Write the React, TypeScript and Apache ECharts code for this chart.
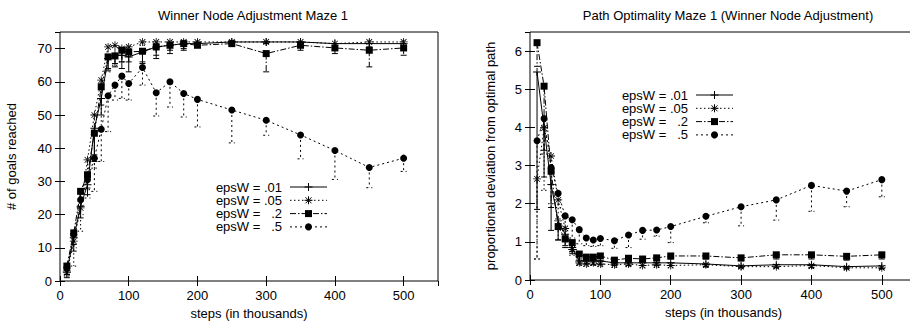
import React, { useEffect, useRef } from "react";
import * as echarts from "echarts";

const FONT = "'Liberation Sans', Arial, Helvetica, sans-serif";

const steps = [10, 20, 30, 40, 50, 60, 70, 80, 90, 100, 120, 140, 160, 180, 200, 250, 300, 350, 400, 450, 500];
const labels = ["epsW = .01", "epsW = .05", "epsW =   .2", "epsW =   .5"];

// Left: goals reached
const goals01 = [3, 13, 22.5, 29, 46, 55, 67, 68, 68, 67.5, 69, 70.5, 71, 71.5, 71.5, 72, 72, 72, 71.5, 71.5, 71.5];
const goals01Low = [1, 9, 19, 26, 38, 50, 63.5, 64.5, 64, 63, 65.5, 67, 68.5, 69.5, 70.5, 71, 71.5, 71, 70.5, 70.5, 70];
const goals05 = [2.5, 12, 22, 36.5, 50, 60.5, 70.5, 71, 70, 70.5, 72, 72, 72, 72, 72, 72, 72, 72, 71.5, 72, 72];
const goals05Low = [1.5, 4.5, 15, 27.5, 34, 45, 63, 65, 66, 68, 71, 71.5, 71.5, 71.5, 71.5, 71.5, 71.5, 71.5, 71, 71.5, 71.5];
const goals2 = [4.5, 14.5, 27, 32, 44.5, 58.5, 67.5, 67.8, 69.5, 69, 69.2, 70.5, 71, 71.5, 71, 71.5, 68.5, 71, 70.2, 69.5, 70.2];
const goals2Low = [2, 11, 24, 28, 36, 53, 64, 65.5, 66, 66, 66, 68, 69.5, 70, 70.5, 71, 63, 69.5, 68.5, 64.5, 68];
const goals5 = [4, 14, 24.5, 30.5, 37, 45.7, 55.8, 59, 61.7, 59.5, 64.3, 56.7, 60, 56.5, 54.7, 51.5, 48.4, 44, 39.3, 34.2, 37];
const goals5Low = [2, 10, 20, 25, 27, 36, 45, 54.5, 55, 54.5, 59, 49.7, 52.4, 49.4, 46.4, 41.6, 43.9, 36.8, 30.6, 28.1, 33];

// Right: path deviation
const dev01 = [5.45, 4.0, 2.5, 1.55, 1.2, 0.85, 0.5, 0.5, 0.5, 0.5, 0.45, 0.45, 0.45, 0.45, 0.45, 0.42, 0.37, 0.4, 0.4, 0.35, 0.37];
const dev01Low = [1.85, 2.7, 1.3, 1.05, 0.9, 0.7, 0.42, 0.42, 0.4, 0.4, 0.38, 0.38, 0.38, 0.38, 0.38, 0.35, 0.33, 0.33, 0.33, 0.3, 0.3];
const dev05 = [2.65, 3.98, 3.25, 2.1, 1.35, 0.8, 0.45, 0.42, 0.45, 0.42, 0.4, 0.42, 0.38, 0.4, 0.38, 0.4, 0.35, 0.35, 0.38, 0.32, 0.32];
const dev05Low = [0.55, 2.35, 2.0, 1.6, 1.0, 0.65, 0.38, 0.36, 0.38, 0.35, 0.33, 0.35, 0.32, 0.33, 0.32, 0.33, 0.3, 0.3, 0.3, 0.28, 0.28];
const dev2 = [6.22, 5.08, 2.85, 1.4, 1.08, 0.98, 0.68, 0.6, 0.6, 0.63, 0.52, 0.57, 0.55, 0.58, 0.63, 0.63, 0.58, 0.66, 0.66, 0.62, 0.66];
const dev2Low = [5.6, 3.4, 1.9, 1.05, 0.85, 0.75, 0.55, 0.5, 0.5, 0.5, 0.45, 0.48, 0.48, 0.5, 0.55, 0.55, 0.5, 0.55, 0.55, 0.52, 0.55];
const dev5 = [3.65, 4.23, 2.95, 2.27, 1.68, 1.58, 1.32, 1.1, 1.05, 1.09, 1.03, 1.18, 1.3, 1.31, 1.4, 1.67, 1.92, 2.1, 2.48, 2.33, 2.63];
const dev5Low = [0.55, 3.3, 2.5, 1.9, 1.3, 1.1, 0.95, 0.9, 0.88, 0.9, 0.83, 0.85, 1.07, 1.15, 0.98, 1.5, 1.42, 1.57, 1.8, 1.92, 2.18];

const PLUS = "path://M-1,-0.12H1V0.12H-1Z M-0.12,-1H0.12V1H-0.12Z";
const STAR =
  "path://M-1,-0.1H1V0.1H-1Z M-0.1,-1H0.1V1H-0.1Z M-0.78,-0.64L-0.64,-0.78L0.78,0.64L0.64,0.78Z M0.78,-0.64L0.64,-0.78L-0.78,0.64L-0.64,0.78Z";

const styles = [
  { symbol: PLUS, size: 8, dash: [] as number[] },
  { symbol: STAR, size: 8, dash: [1.5, 2.5] },
  { symbol: "rect", size: 7, dash: [6, 2, 1.5, 2] },
  { symbol: "circle", size: 7, dash: [2, 3] },
];

function errRender(dash: number[]) {
  return (params: any, api: any) => {
    const x = api.value(0);
    const p = api.coord([x, api.value(1)]);
    const q = api.coord([x, api.value(2)]);
    const st = { stroke: "#000", lineWidth: 1, lineDash: dash.length ? dash : null, fill: null };
    return {
      type: "group",
      children: [
        { type: "line", shape: { x1: p[0], y1: p[1], x2: q[0], y2: q[1] }, style: st },
        { type: "line", shape: { x1: q[0] - 3, y1: q[1], x2: q[0] + 3, y2: q[1] }, style: st },
      ],
    };
  };
}

function buildSeries(gridIdx: number, ys: number[][], lows: number[][]) {
  const out: any[] = [];
  ys.forEach((y, i) => {
    const s = styles[i];
    out.push({
      type: "custom",
      xAxisIndex: gridIdx * 2,
      yAxisIndex: gridIdx * 2,
      z: 2,
      silent: true,
      renderItem: errRender(s.dash),
      encode: { x: 0, y: [1, 2] },
      data: steps.map((x, k) => [x, y[k], lows[i][k]]),
    });
    out.push({
      type: "line",
      xAxisIndex: gridIdx * 2,
      yAxisIndex: gridIdx * 2,
      z: 3,
      symbol: s.symbol,
      symbolSize: s.size,
      showSymbol: true,
      itemStyle: { color: "#000" },
      lineStyle: { color: "#000", width: 1, type: s.dash.length ? s.dash : "solid" },
      data: steps.map((x, k) => [x, y[k]]),
    });
  });
  return out;
}

function legendGraphics(textRight: number, top: number, rowH: number, lineX1: number, lineX2: number) {
  const els: any[] = [];
  labels.forEach((lab, i) => {
    const y = top + i * rowH;
    const s = styles[i];
    els.push({
      type: "text",
      x: textRight,
      y,
      style: {
        text: lab,
        fontSize: 13,
        fontFamily: FONT,
        fill: "#000",
        align: "right",
        verticalAlign: "middle",
      },
    });
    els.push({
      type: "line",
      shape: { x1: lineX1, y1: y, x2: lineX2, y2: y },
      style: { stroke: "#000", lineWidth: 1, lineDash: s.dash.length ? s.dash : null },
    });
    const mx = (lineX1 + lineX2) / 2;
    if (i === 0) {
      els.push({ type: "line", shape: { x1: mx - 4, y1: y, x2: mx + 4, y2: y }, style: { stroke: "#000", lineWidth: 1 } });
      els.push({ type: "line", shape: { x1: mx, y1: y - 4, x2: mx, y2: y + 4 }, style: { stroke: "#000", lineWidth: 1 } });
    } else if (i === 1) {
      els.push({ type: "line", shape: { x1: mx - 4, y1: y, x2: mx + 4, y2: y }, style: { stroke: "#000", lineWidth: 1 } });
      els.push({ type: "line", shape: { x1: mx, y1: y - 4, x2: mx, y2: y + 4 }, style: { stroke: "#000", lineWidth: 1 } });
      els.push({ type: "line", shape: { x1: mx - 3, y1: y - 3, x2: mx + 3, y2: y + 3 }, style: { stroke: "#000", lineWidth: 1 } });
      els.push({ type: "line", shape: { x1: mx - 3, y1: y + 3, x2: mx + 3, y2: y - 3 }, style: { stroke: "#000", lineWidth: 1 } });
    } else if (i === 2) {
      els.push({ type: "rect", shape: { x: mx - 3.5, y: y - 3.5, width: 7, height: 7 }, style: { fill: "#000" } });
    } else {
      els.push({ type: "circle", shape: { cx: mx, cy: y, r: 3.5 }, style: { fill: "#000" } });
    }
  });
  return els;
}

const axisText = { color: "#000", fontSize: 13, fontFamily: FONT };

function xAxes(gridIndex: number) {
  return [
    {
      type: "value",
      gridIndex,
      min: 0,
      max: 550,
      interval: 100,
      name: "steps (in thousands)",
      nameLocation: "middle",
      nameGap: 25,
      nameTextStyle: axisText,
      axisLine: { show: false },
      axisTick: { inside: true, length: 5, lineStyle: { color: "#000" } },
      axisLabel: { ...axisText, margin: 8, showMaxLabel: false },
      splitLine: { show: false },
    },
    {
      type: "value",
      gridIndex,
      position: "top",
      min: 0,
      max: 550,
      interval: 100,
      axisLine: { show: false },
      axisTick: { inside: true, length: 5, lineStyle: { color: "#000" } },
      axisLabel: { show: false },
      splitLine: { show: false },
    },
  ];
}

function yAxes(gridIndex: number, max: number, interval: number, name: string, nameGap: number) {
  return [
    {
      type: "value",
      gridIndex,
      min: 0,
      max,
      interval,
      name,
      nameLocation: "middle",
      nameGap,
      nameTextStyle: axisText,
      axisLine: { show: false },
      axisTick: { inside: true, length: 5, lineStyle: { color: "#000" } },
      axisLabel: { ...axisText, margin: 8, showMaxLabel: false },
      splitLine: { show: false },
    },
    {
      type: "value",
      gridIndex,
      position: "right",
      min: 0,
      max,
      interval,
      axisLine: { show: false },
      axisTick: { inside: true, length: 5, lineStyle: { color: "#000" } },
      axisLabel: { show: false },
      splitLine: { show: false },
    },
  ];
}

export default function App() {
  const ref = useRef<HTMLDivElement>(null);
  useEffect(() => {
    if (!ref.current) return;
    const chart = echarts.init(ref.current, null, { renderer: "svg" });
    const option: any = {
      animation: false,
      backgroundColor: "#fff",
      textStyle: { fontFamily: FONT },
      title: [
        {
          text: "Winner Node Adjustment Maze 1",
          left: 248,
          top: 4,
          textAlign: "center",
          textStyle: { fontSize: 13, fontWeight: "normal", color: "#000", fontFamily: FONT },
        },
        {
          text: "Path Optimality Maze 1 (Winner Node Adjustment)",
          left: 723,
          top: 4,
          textAlign: "center",
          textStyle: { fontSize: 13, fontWeight: "normal", color: "#000", fontFamily: FONT },
        },
      ],
      grid: [
        {
          left: 60, top: 32, width: 378, height: 249,
          show: true, borderColor: "#000", borderWidth: 1, backgroundColor: "transparent",
          outerBoundsMode: "none",
        },
        {
          left: 530, top: 32, width: 387, height: 248,
          show: true, borderColor: "#000", borderWidth: 1, backgroundColor: "transparent",
          outerBoundsMode: "none",
        },
      ],
      xAxis: [...xAxes(0), ...xAxes(1)],
      yAxis: [
        ...yAxes(0, 75, 10, "# of goals reached", 42),
        ...yAxes(1, 6.5, 1, "proportional deviation from optimal path", 33),
      ],
      series: [
        ...buildSeries(0, [goals01, goals05, goals2, goals5], [goals01Low, goals05Low, goals2Low, goals5Low]),
        ...buildSeries(1, [dev01, dev05, dev2, dev5], [dev01Low, dev05Low, dev2Low, dev5Low]),
      ],
      graphic: [
        ...legendGraphics(282, 187, 13.3, 290, 327),
        ...legendGraphics(688, 95, 13.3, 696, 733),
      ],
    };
    chart.setOption(option);
    return () => chart.dispose();
  }, []);
  return <div ref={ref} style={{ position: "absolute", left: 0, top: 0, width: 910, height: 323 }} />;
}
